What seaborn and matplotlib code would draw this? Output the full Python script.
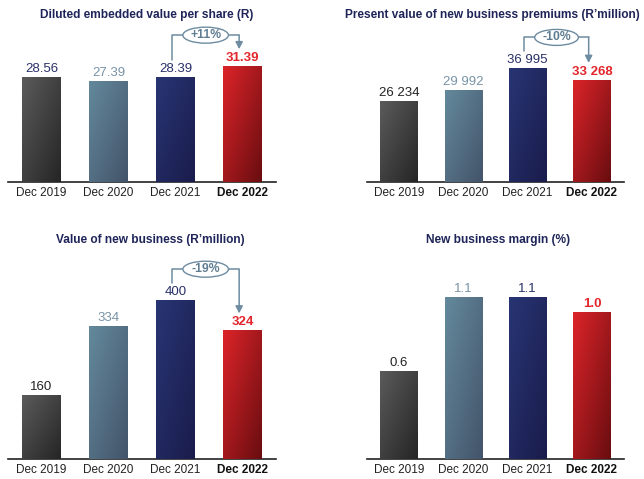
import numpy as np
import pandas as pd
import seaborn as sns
import matplotlib
matplotlib.use("Agg")
import matplotlib.pyplot as plt
from matplotlib.patches import Ellipse
from matplotlib.colors import LinearSegmentedColormap

sns.set_theme(style="white")
plt.rcParams["font.family"] = ["Liberation Sans", "DejaVu Sans"]

# ---- data ----
years = ["Dec 2019", "Dec 2020", "Dec 2021", "Dec 2022"]
dev_per_share = [28.56, 27.39, 28.39, 31.39]
pvnbp = [26234, 29992, 36995, 33268]
vnb = [160, 334, 400, 324]
nb_margin = [0.6, 1.1, 1.1, 1.0]

dev_labels = ["28.56", "27.39", "28.39", "31.39"]
pvnbp_labels = ["26 234", "29 992", "36 995", "33 268"]
vnb_labels = ["160", "334", "400", "324"]
margin_labels = ["0.6", "1.1", "1.1", "1.0"]

titles = [
    "Diluted embedded value per share (R)",
    "Present value of new business premiums (R\u2019million)",
    "Value of new business (R\u2019million)",
    "New business margin (%)",
]
changes = ["+11%", "-10%", "-19%", None]

# ---- styling ----
W, H = 644, 479
NAVY_TITLE = "#1f2558"
ARROW = "#6d8ca1"
# (top-left, bottom-right) gradient stops for each year
grad = [("#5b5b5b", "#252525"), ("#64899c", "#43546a"),
        ("#283574", "#1a1c4b"), ("#dc2429", "#690d10")]
flat = ["#404040", "#557487", "#222a60", "#a3181c"]
label_colors_top = ["#283068", "#7893a6", "#283068", "#e3262b"]
label_colors_bottom = ["#222222", "#7893a6", "#283068", "#e3262b"]

fig = plt.figure(figsize=(W / 100, H / 100), dpi=100)


def px_axes(left, right, top, baseline):
    return fig.add_axes([left / W, 1 - baseline / H, (right - left) / W, (baseline - top) / H])


panels = [
    # values, labels, label colours, (left, right, top, baseline), px per unit, title centre
    (dev_per_share, dev_labels, label_colors_top, (8, 276, 22, 182), 3.69, (147, 15)),
    (pvnbp, pvnbp_labels, label_colors_bottom, (367, 624, 22, 182), 0.00307, (492, 15)),
    (vnb, vnb_labels, label_colors_bottom, (8, 276, 255, 459), 0.397, (150, 240)),
    (nb_margin, margin_labels, label_colors_bottom, (367, 624, 255, 459), 147.0, (498, 240)),
]

for i, (vals, labs, lcols, (l, r, t, b), scale, (tx, ty)) in enumerate(panels):
    ax = px_axes(l, r, t, b)
    df = pd.DataFrame({"year": years, "value": vals})
    sns.barplot(data=df, x="year", y="value", hue="year", palette=flat,
                width=0.58, legend=False, ax=ax, saturation=1)
    ytop = (b - t) / scale
    ax.set_xlim(-0.5, 3.5)
    ax.set_ylim(0, ytop)

    # diagonal gradient fill on each bar: lighter top-left, darker bottom-right
    for k, p in enumerate(ax.patches):
        x0, y0 = p.get_x(), p.get_y()
        w, h = p.get_width(), p.get_height()
        u = np.linspace(0, 1, 64)
        uu, vv = np.meshgrid(u, u)
        tt = (uu + vv) / 2.0
        cmap = LinearSegmentedColormap.from_list("g", [grad[k][0], grad[k][1]])
        im = ax.imshow(tt, cmap=cmap, extent=(x0, x0 + w, y0, y0 + h), origin="upper",
                       aspect="auto", interpolation="bilinear", zorder=3, vmin=0, vmax=1)
        im.set_clip_path(p)
        p.set_edgecolor("none")
    ax.set_xlim(-0.5, 3.5)
    ax.set_ylim(0, ytop)

    # value labels
    for k, (v, s) in enumerate(zip(vals, labs)):
        ax.annotate(s, (k, v), xytext=(0, 1.5), textcoords="offset points",
                    ha="center", va="bottom", fontsize=9.5, color=lcols[k],
                    fontweight="bold" if k == 3 else "normal", zorder=5)

    # axes cosmetics
    sns.despine(ax=ax, left=True, top=True, right=True)
    ax.spines["bottom"].set_color("#222222")
    ax.spines["bottom"].set_linewidth(1.2)
    ax.set_yticks([])
    ax.set_xlabel("")
    ax.set_ylabel("")
    ax.tick_params(axis="x", length=0, pad=3.5, labelsize=8.5, labelcolor="#222222")
    ax.set_xticks(range(4))
    ax.set_xticklabels(years)
    ax.get_xticklabels()[3].set_fontweight("bold")
    ax.get_xticklabels()[3].set_color("#111111")
    ax.set_facecolor("none")

    fig.text(tx / W, 1 - ty / H, titles[i], ha="center", va="center",
             fontsize=8.6, fontweight="bold", color=NAVY_TITLE)

    # year-on-year change bracket
    if changes[i] is not None:
        d = 1.0 / scale  # data units per pixel
        v3, v4 = vals[2], vals[3]
        xl, xr = 2 - 0.05, 3 - 0.05
        y_start = v3 + 17 * d
        y_br = max(v3, v4) + 31 * d
        y_tip = v4 + 17 * d
        xc = (xl + xr) / 2
        ew = 0.68
        ax.plot([xl, xl, xc - ew / 2], [y_start, y_br, y_br], color=ARROW, lw=1.1,
                clip_on=False, zorder=4)
        ax.annotate("", xy=(xr, y_tip), xytext=(xr, y_br),
                    arrowprops=dict(arrowstyle="-|>,head_length=0.35,head_width=0.18",
                                    color=ARROW, lw=1.1, shrinkA=0, shrinkB=0),
                    annotation_clip=False, zorder=4)
        ax.plot([xc + ew / 2, xr], [y_br, y_br], color=ARROW, lw=1.1, clip_on=False, zorder=4)
        ax.add_patch(Ellipse((xc, y_br), ew, 16 * d, facecolor="white", edgecolor=ARROW,
                             lw=1.0, clip_on=False, zorder=5))
        ax.text(xc, y_br, changes[i], ha="center", va="center", fontsize=8.8,
                fontweight="bold", color="#5f7d92", zorder=6, clip_on=False)

fig.savefig("out.png", dpi=100, facecolor="white")
